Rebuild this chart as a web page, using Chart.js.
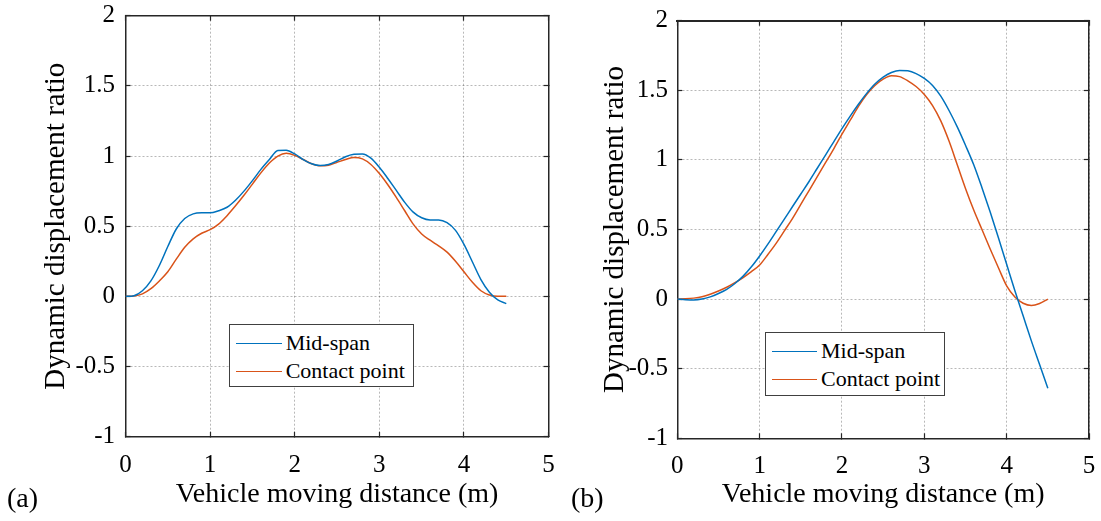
<!DOCTYPE html>
<html>
<head>
<meta charset="utf-8">
<script src="https://cdn.jsdelivr.net/npm/chart.js@4/dist/chart.umd.min.js"></script>
<style>
  html, body { margin: 0; padding: 0; background: #fff; }
  #wrap { position: relative; width: 1101px; height: 521px; overflow: hidden;
          font-family: 'Liberation Serif', 'Times New Roman', serif; }
  canvas { position: absolute; top: 0; }
  .tag { position: absolute; font-size: 28px; line-height: 28px; color: #000; }
  .legend { position: absolute; background: #fff; border: 1px solid #404040; box-sizing: border-box; }
  .legend .swatch { position: absolute; height: 0; border-top: 1.5px solid; }
  .legend .txt { position: absolute; font-size: 22px; line-height: 28px; white-space: nowrap; color: #000; }
</style>
</head>
<body>
<div id="wrap">
  <canvas id="chart-a" width="570" height="521" style="left:0"></canvas>
  <canvas id="chart-b" width="531" height="521" style="left:570px"></canvas>
  <div class="tag" style="left:7px;top:484px">(a)</div>
  <div class="tag" style="left:571px;top:484px">(b)</div>
</div>
<script>
// x positions (m), shared by both panels
const distance = [0, 0.1, 0.2, 0.3, 0.4, 0.5, 0.6, 0.7, 0.8, 0.9,
  1.0, 1.1, 1.2, 1.3, 1.4, 1.5, 1.6, 1.7, 1.8, 1.9,
  2.0, 2.1, 2.2, 2.3, 2.4, 2.5, 2.6, 2.7, 2.8, 2.9,
  3.0, 3.1, 3.2, 3.3, 3.4, 3.5, 3.6, 3.7, 3.8, 3.9,
  4.0, 4.1, 4.2, 4.3, 4.4, 4.5];

// panel (a)
const midSpanA = [0, 0.005, 0.04, 0.11, 0.22, 0.355, 0.48, 0.555, 0.588, 0.595,
  0.595, 0.61, 0.635, 0.685, 0.75, 0.825, 0.905, 0.975, 1.04, 1.042,
  1.015, 0.975, 0.945, 0.932, 0.94, 0.965, 0.995, 1.012, 1.015, 0.985,
  0.92, 0.84, 0.755, 0.67, 0.60, 0.56, 0.545, 0.545, 0.525, 0.47,
  0.37, 0.245, 0.12, 0.03, -0.025, -0.052];
const contactA = [0, 0.003, 0.018, 0.055, 0.11, 0.175, 0.265, 0.35, 0.41, 0.45,
  0.475, 0.515, 0.575, 0.645, 0.72, 0.80, 0.88, 0.95, 1.0, 1.02,
  1.005, 0.975, 0.945, 0.93, 0.935, 0.955, 0.975, 0.99, 0.98, 0.94,
  0.875, 0.795, 0.705, 0.61, 0.515, 0.445, 0.40, 0.36, 0.315, 0.25,
  0.175, 0.10, 0.04, 0.01, 0, 0];

// panel (b)
const midSpanB = [0, -0.004, -0.006, 0, 0.016, 0.04, 0.07, 0.112, 0.165, 0.232,
  0.31, 0.395, 0.485, 0.575, 0.665, 0.755, 0.845, 0.94, 1.035, 1.13,
  1.225, 1.315, 1.40, 1.478, 1.545, 1.595, 1.628, 1.643, 1.64, 1.62,
  1.585, 1.535, 1.458, 1.355, 1.237, 1.105, 0.965, 0.80, 0.625, 0.44,
  0.25, 0.06, -0.12, -0.30, -0.47, -0.64];
const contactB = [0, 0.002, 0.007, 0.017, 0.035, 0.058, 0.085, 0.118, 0.155, 0.197,
  0.245, 0.32, 0.40, 0.49, 0.58, 0.68, 0.78, 0.88, 0.98, 1.08,
  1.185, 1.285, 1.385, 1.47, 1.535, 1.58, 1.605, 1.598, 1.568, 1.527,
  1.47, 1.39, 1.28, 1.135, 0.965, 0.795, 0.64, 0.50, 0.36, 0.225,
  0.095, 0.015, -0.03, -0.046, -0.032, 0];

const xTicks = [0, 1, 2, 3, 4, 5];
const yTicks = [-1, -0.5, 0, 0.5, 1, 1.5, 2];
const seriesNames = ['Mid-span', 'Contact point'];

const BLUE = '#0072BD';
const ORANGE = '#D95319';
const AXIS = '#262626';
const GRID = 'rgba(0,0,0,0.28)';
const FONT = "'Liberation Serif', 'Times New Roman', serif";
const tickFont = { family: FONT, size: 25, lineHeight: 1 };
const titleFont = { family: FONT, size: 28, lineHeight: 1 };

function points(ys) {
  return distance.map((x, i) => ({ x, y: ys[i] }));
}

// fixed box sizes; tick-label overflow must not push the plot area around
function fixSize(key, val) {
  return s => {
    s[key] = val;
    s.paddingLeft = s.paddingRight = s.paddingTop = s.paddingBottom = 0;
  };
}

function mirrorAxis(axis, position, min, max, ticksArr, fitKey, bw) {
  return {
    type: 'linear', axis, position, min, max,
    afterBuildTicks: s => { s.ticks = ticksArr.map(v => ({ value: v })); },
    afterFit: fixSize(fitKey, 0),
    grid: { drawOnChartArea: false, tickLength: -5, tickColor: AXIS, tickWidth: 1.2 },
    border: { display: true, color: AXIS, width: bw },
    ticks: { display: false },
    title: { display: false },
  };
}

function buildChart(id, mid, contact, box) {
  return new Chart(document.getElementById(id), {
    type: 'line',
    data: {
      datasets: [
        { label: seriesNames[0], data: points(mid), borderColor: BLUE, borderWidth: 1.5,
          pointRadius: 0, cubicInterpolationMode: 'monotone', fill: false },
        { label: seriesNames[1], data: points(contact), borderColor: ORANGE, borderWidth: 1.5,
          pointRadius: 0, cubicInterpolationMode: 'monotone', fill: false },
      ],
    },
    options: {
      responsive: false,
      animation: false,
      events: [],
      layout: { padding: { top: box.top, right: box.right, left: 0, bottom: 0 } },
      plugins: { legend: { display: false }, tooltip: { enabled: false } },
      scales: {
        x: {
          type: 'linear', position: 'bottom', min: 0, max: 5,
          afterBuildTicks: s => { s.ticks = xTicks.map(v => ({ value: v })); },
          afterFit: fixSize('height', box.xh),
          grid: { color: GRID, lineWidth: 1, tickLength: -5, tickColor: AXIS, tickWidth: 1.2 },
          border: { display: true, color: AXIS, width: 1.5, dash: [2, 2] },
          ticks: { color: '#000', font: tickFont, padding: box.xPad, maxRotation: 0, autoSkip: false,
                   callback: v => String(v) },
          title: { display: true, text: 'Vehicle moving distance (m)', color: '#000', font: titleFont,
                   padding: { top: 0, bottom: box.xTitlePad } },
        },
        y: {
          type: 'linear', position: 'left', min: -1, max: 2,
          afterBuildTicks: s => { s.ticks = yTicks.map(v => ({ value: v })); },
          afterFit: fixSize('width', box.yw),
          grid: { color: GRID, lineWidth: 1, tickLength: -5, tickColor: AXIS, tickWidth: 1.2 },
          border: { display: true, color: AXIS, width: 1.5, dash: [2, 2] },
          ticks: { color: '#000', font: tickFont, padding: box.yPad, autoSkip: false,
                   callback: v => String(v) },
          title: { display: true, text: 'Dynamic displacement ratio', color: '#000',
                   font: { family: FONT, size: 29, lineHeight: 1 },
                   padding: { top: box.yTitlePad, bottom: 0 } },
        },
        x2: mirrorAxis('x', 'top', 0, 5, xTicks, 'height', box.topBorder),
        y2: mirrorAxis('y', 'right', -1, 2, yTicks, 'width', 1.5),
      },
    },
  });
}

function addLegend(box) {
  const wrap = document.getElementById('wrap');
  const el = document.createElement('div');
  el.className = 'legend';
  Object.assign(el.style, { left: box.left + 'px', top: box.top + 'px', width: box.w + 'px', height: box.h + 'px' });
  [BLUE, ORANGE].forEach((c, i) => {
    const sw = document.createElement('div');
    sw.className = 'swatch';
    Object.assign(sw.style, { left: box.lineX + 'px', width: box.lineW + 'px', top: box.rows[i] + 'px', borderTopColor: c });
    const tx = document.createElement('div');
    tx.className = 'txt';
    tx.textContent = seriesNames[i];
    Object.assign(tx.style, { left: box.textX + 'px', top: (box.rows[i] - 14) + 'px' });
    el.appendChild(sw);
    el.appendChild(tx);
  });
  wrap.appendChild(el);
}

buildChart('chart-a', midSpanA, contactA,
  { top: 15.7, right: 570 - 548.6, yw: 125.5, xh: 521 - 436.7, xPad: 21.5, yPad: 15.5,
    xTitlePad: 12.5, yTitlePad: 42, topBorder: 1.5 });
buildChart('chart-b', midSpanB, contactB,
  { top: 20.7, right: 531 - 519, yw: 107.3, xh: 521 - 438.3, xPad: 21, yPad: 14.3,
    xTitlePad: 12.5, yTitlePad: 31, topBorder: 2 });

addLegend({ left: 228.7, top: 324.3, w: 185.6, h: 63, lineX: 6, lineW: 46.7, textX: 56, rows: [17.5, 45.5] });
addLegend({ left: 765, top: 332.3, w: 180, h: 63.7, lineX: 6, lineW: 44.7, textX: 55, rows: [17.5, 46] });
</script>
</body>
</html>
